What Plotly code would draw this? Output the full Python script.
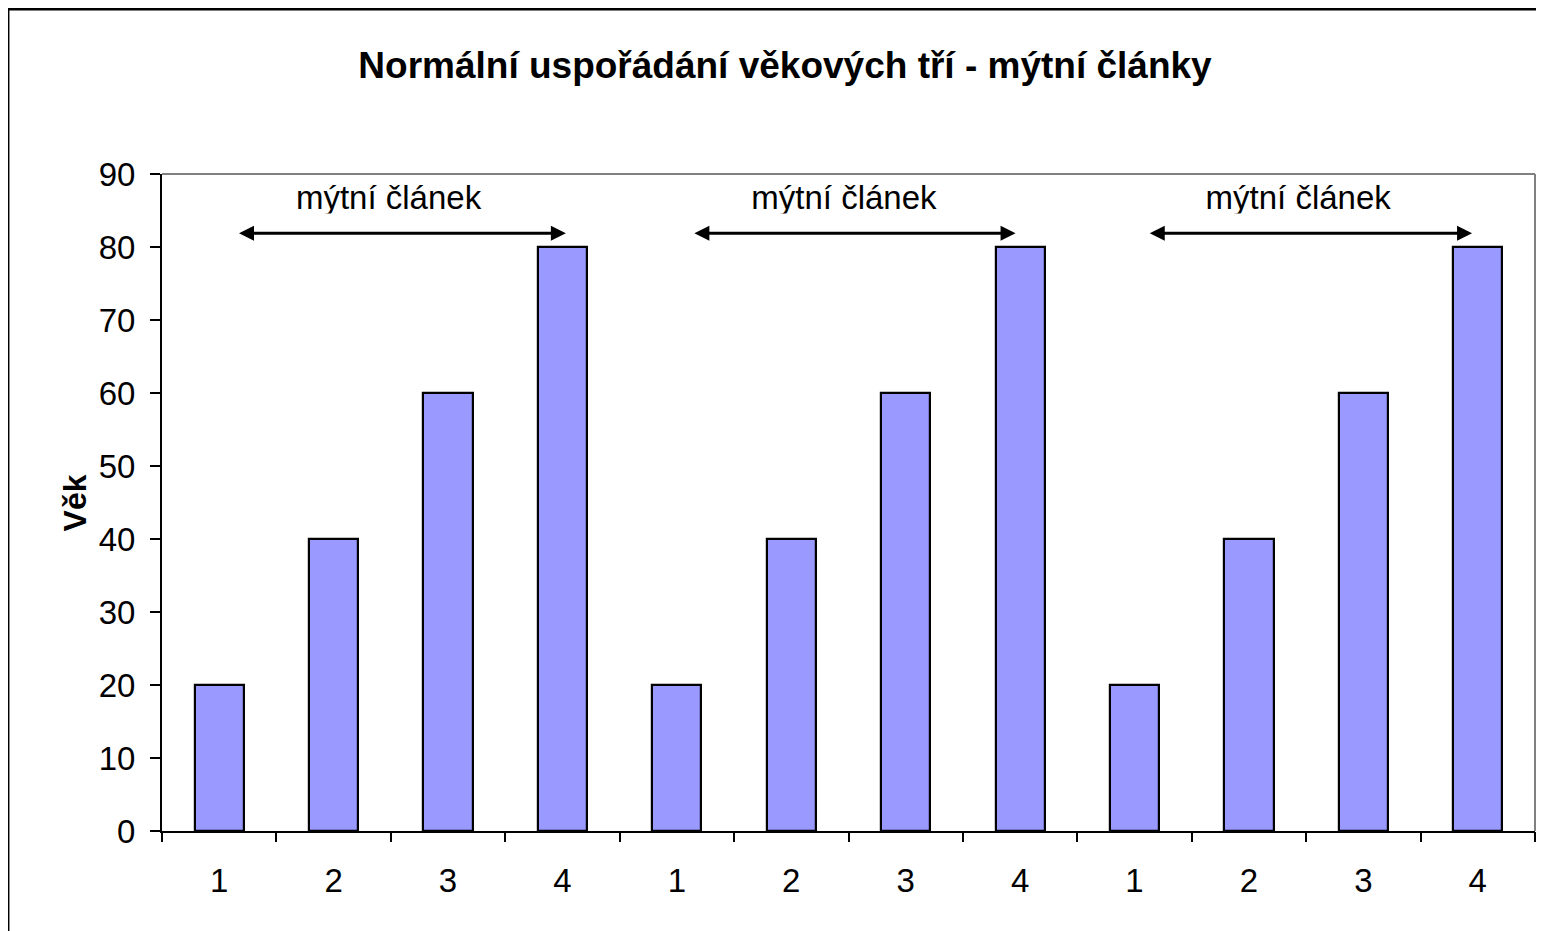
import plotly.graph_objects as go

# ---------------- data ----------------
tick_labels = ["1", "2", "3", "4", "1", "2", "3", "4", "1", "2", "3", "4"]
ages = [20, 40, 60, 80, 20, 40, 60, 80, 20, 40, 60, 80]
positions = list(range(len(ages)))

section_label = "mýtní článek"
arrow_start = [0.16, 4.14, 8.12]
arrow_end = [3.03, 6.96, 10.95]
arrow_level = 81.9
label_x = [1.48, 5.46, 9.43]
label_level = 86.3

title_text = "Normální uspořádání věkových tří - mýtní články"
y_title = "Věk"
y_ticks = list(range(0, 91, 10))

FONT = "Liberation Sans, Arial, sans-serif"

# the page body adds an 8px margin, so the figure is 8px smaller than the window
W, H = 1536, 923

fig = go.Figure()

fig.add_trace(go.Bar(
    x=positions, y=ages, width=0.43,
    marker=dict(color="#9999FF", line=dict(color="black", width=2.2)),
    showlegend=False, hoverinfo="skip",
))

# section labels as text trace (so the clipping box can cover their descenders)
fig.add_trace(go.Scatter(
    x=label_x, y=[label_level] * len(label_x), mode="text",
    text=[section_label] * len(label_x), textposition="middle center",
    textfont=dict(family=FONT, size=33, color="black"),
    showlegend=False, hoverinfo="skip",
))

# invisible trace for the boundary-tick axis
fig.add_trace(go.Scatter(
    x=[-0.5, len(ages) - 0.5], y=[0, 0], xaxis="x2", mode="markers",
    marker=dict(opacity=0), showlegend=False, hoverinfo="skip",
))

shapes = []
# outer chart border (extends beyond the canvas on right and bottom)
shapes.append(dict(type="rect", xref="paper", yref="paper",
                   x0=-0.1122, x1=1.1, y0=-0.5, y1=1.2511,
                   line=dict(color="black", width=3), layer="below"))
# grey plot-area frame top and right
shapes.append(dict(type="line", xref="paper", yref="paper", x0=0, x1=1, y0=1, y1=1,
                   line=dict(color="#808080", width=2)))
shapes.append(dict(type="line", xref="paper", yref="paper", x0=1, x1=1, y0=0, y1=1,
                   line=dict(color="#808080", width=2)))
# white strips clipping the bottom of the section labels
for cx in label_x:
    shapes.append(dict(type="rect", xref="x", yref="y",
                       x0=cx - 1.0, x1=cx + 1.0, y0=arrow_level + 0.8, y1=label_level - 1.7,
                       fillcolor="white", line=dict(width=0), layer="above"))

annotations = []
for s, e in zip(arrow_start, arrow_end):
    annotations.append(dict(
        x=e, y=arrow_level, ax=s, ay=arrow_level, xref="x", yref="y",
        axref="x", ayref="y", text="", showarrow=True,
        arrowhead=2, arrowside="end+start", arrowsize=1.0, arrowwidth=3,
        arrowcolor="black", standoff=0, startstandoff=0,
    ))
annotations.append(dict(
    x=-0.0634, y=0.5, xref="paper", yref="paper", text="<b>" + y_title + "</b>",
    textangle=-90, showarrow=False, xanchor="center", yanchor="middle",
    font=dict(family=FONT, size=32, color="black"),
))

fig.update_layout(
    width=W, height=H,
    margin=dict(l=154, r=9, t=166, b=100),
    paper_bgcolor="white", plot_bgcolor="white",
    font=dict(family=FONT, size=33, color="black"),
    title=dict(text="<b>" + title_text + "</b>", x=777 / W, xref="container",
               xanchor="center", y=1 - 57 / H, yanchor="middle",
               font=dict(family=FONT, size=37, color="black")),
    xaxis=dict(range=[-0.5, len(ages) - 0.5], tickmode="array", tickvals=positions,
               ticktext=tick_labels, ticks="", showline=True, linecolor="black",
               linewidth=2, showgrid=False, zeroline=False, ticklabelstandoff=19,
               tickfont=dict(family=FONT, size=33)),
    xaxis2=dict(range=[-0.5, len(ages) - 0.5], overlaying="x", anchor="y", side="bottom",
                tickmode="array", tickvals=[p - 0.5 for p in positions] + [len(ages) - 0.5],
                ticks="outside", ticklen=10, tickwidth=2, tickcolor="black",
                showticklabels=False, showline=False, showgrid=False, zeroline=False),
    yaxis=dict(range=[0, 90], tickmode="array", tickvals=y_ticks, ticks="outside",
               ticklen=10, tickwidth=2, tickcolor="black", showline=True,
               linecolor="black", linewidth=2, showgrid=False, zeroline=False,
               ticklabelstandoff=8, tickfont=dict(family=FONT, size=33)),
    shapes=shapes, annotations=annotations, bargap=0,
)

fig.write_html("out.html")
